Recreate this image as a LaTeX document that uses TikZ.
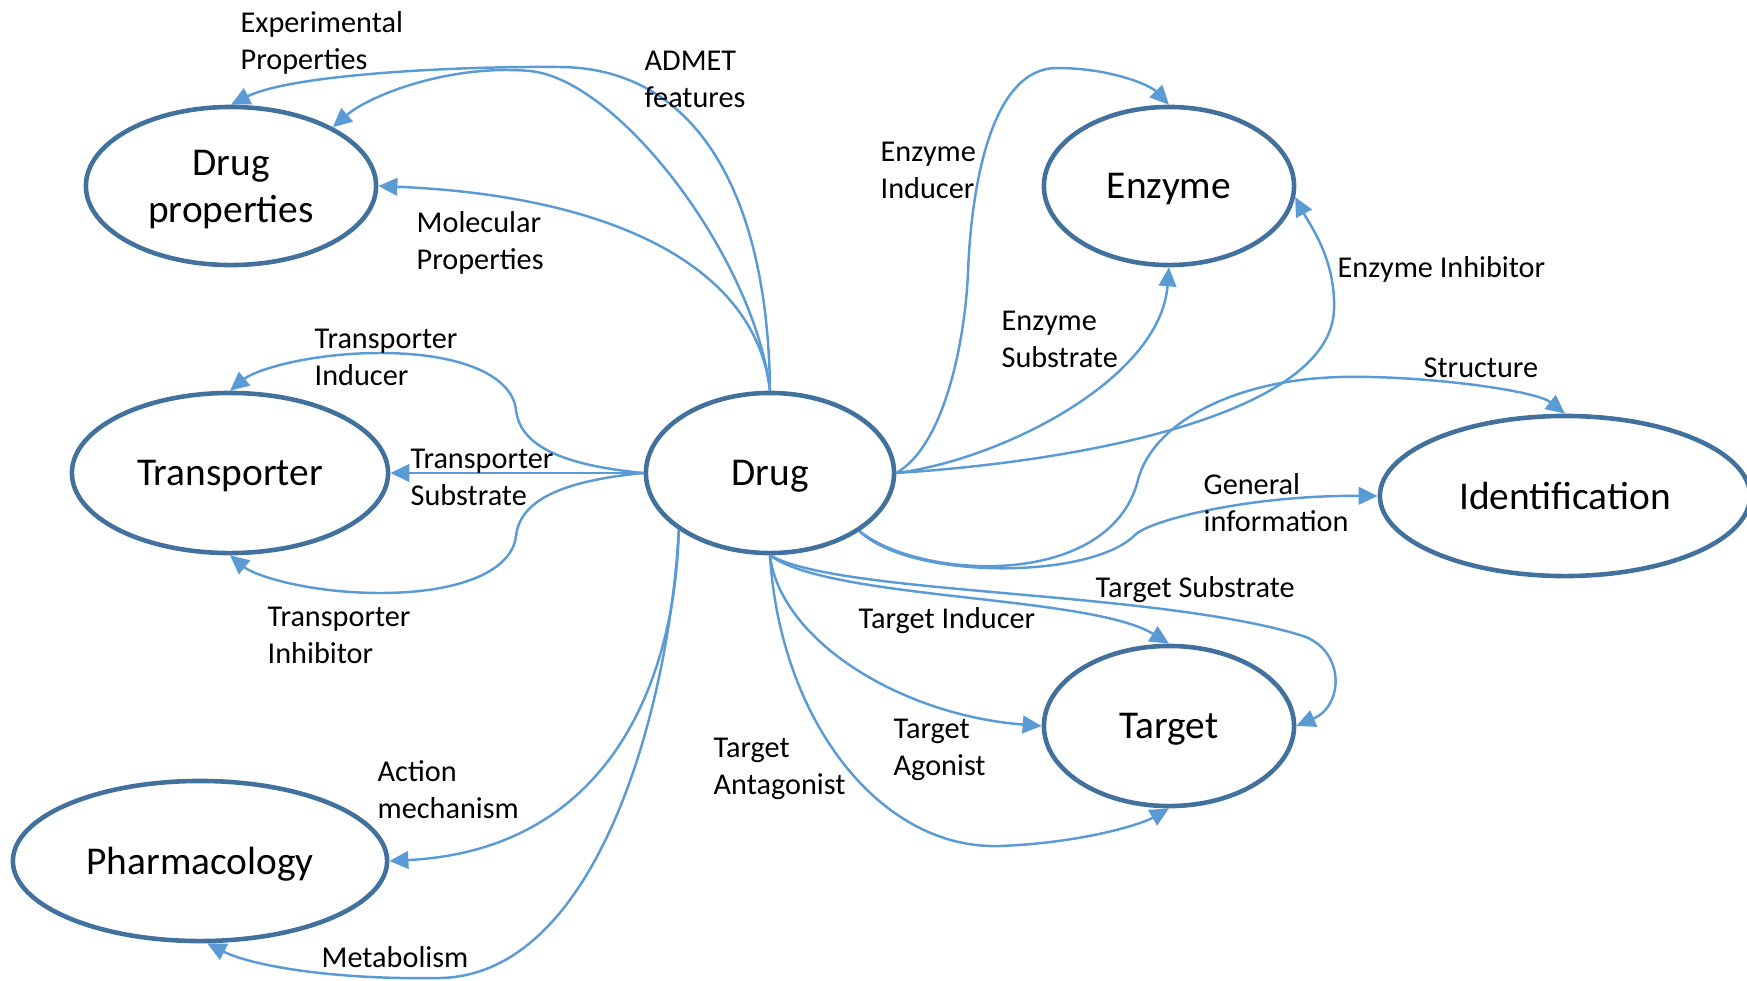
\documentclass[tikz,border=0pt]{standalone}
\usepackage{fontspec}
\setmainfont{Carlito}
\usepackage{tikz}
\usetikzlibrary{shapes.geometric, arrows.meta}
\definecolor{rim}{HTML}{41719C}
\definecolor{link}{HTML}{5B9BD5}

\begin{document}
\begin{tikzpicture}[x=0.01cm, y=-0.01cm,
    ent/.style={draw=rim, line width=1.3pt, ellipse, inner sep=0pt, align=center, text depth=0pt,
        font=\fontsize{11.2}{13.4}\selectfont},
    rel/.style={draw=link, line width=0.7pt, -{Triangle[length=5.4pt, width=5pt]}},
    lbl/.style={anchor=west, inner sep=0pt, align=left, yshift=-0.8pt, font=\fontsize{8.6}{10.5}\selectfont}]
    \useasboundingbox (0,0) rectangle (1747,981);

    \node(Dp)[ent, minimum width=2.9cm, minimum height=1.58cm] at (231,186) {Drug\\properties};
    \node(Tr)[ent, minimum width=3.16cm, minimum height=1.6cm] at (230,473) {Transporter};
    \node(Ph)[ent, minimum width=3.74cm, minimum height=1.6cm] at (200,861) {Pharmacology};
    \node(Dr)[ent, minimum width=2.48cm, minimum height=1.6cm] at (770,473) {Drug};
    \node(En)[ent, minimum width=2.5cm, minimum height=1.58cm] at (1169,186) {Enzyme};
    \node(Id)[ent, minimum width=3.7cm, minimum height=1.6cm] at (1565,496) {Identification};
    \node(Tg)[ent, minimum width=2.5cm, minimum height=1.6cm] at (1169,726) {Target};

    % drug properties
    \draw[rel] (Dr.north) .. controls (768,200) and (700,68) .. (560,67) .. controls (450,66) and (290,75) .. (Dp.north);
    \draw[rel] (Dr.north) .. controls (755,260) and (620,80) .. (530,71) .. controls (450,64) and (370,95) .. (Dp.30);
    \draw[rel] (Dr.north) .. controls (755,260) and (600,195) .. (Dp.east);
    % transporter
    \draw[rel] (Dr.west) .. controls (560,465) and (520,445) .. (516,410) .. controls (512,375) and (460,353) .. (380,353) .. controls (310,353) and (255,370) .. (Tr.north);
    \draw[rel] (Dr.west) -- (Tr.east);
    \draw[rel] (Dr.west) .. controls (560,481) and (520,501) .. (516,536) .. controls (512,571) and (460,593) .. (380,593) .. controls (310,593) and (255,576) .. (Tr.south);
    % pharmacology
    \draw[rel] (Dr.212) .. controls (675,680) and (610,850) .. (Ph.east);
    \draw[rel] (Dr.212) .. controls (670,700) and (600,975) .. (440,978) .. controls (330,980) and (250,965) .. (Ph.-85);
    % enzyme
    \draw[rel] (Dr.east) .. controls (945,445) and (965,340) .. (968,273) .. controls (971,190) and (990,68) .. (1057,68) .. controls (1110,68) and (1150,85) .. (En.north);
    \draw[rel] (Dr.east) .. controls (1000,460) and (1160,380) .. (En.south);
    \draw[rel] (Dr.east) .. controls (1100,460) and (1330,410) .. (1334,310) .. controls (1336,260) and (1310,225) .. (En.-5);
    % identification
    \draw[rel] (Dr.-33) .. controls (920,580) and (1110,590) .. (1138,480) .. controls (1152,425) and (1230,380) .. (1340,377) .. controls (1420,375) and (1535,390) .. (Id.north);
    \draw[rel] (Dr.-33) .. controls (910,580) and (1090,580) .. (1135,535) .. controls (1150,520) and (1250,495) .. (Id.west);
    % target
    \draw[rel] (Dr.south) .. controls (840,595) and (1150,590) .. (1300,635) .. controls (1345,648) and (1345,705) .. (Tg.east);
    \draw[rel] (Dr.south) .. controls (830,600) and (1090,595) .. (Tg.north);
    \draw[rel] (Dr.south) .. controls (780,640) and (900,715) .. (Tg.west);
    \draw[rel] (Dr.south) .. controls (780,720) and (880,850) .. (1000,846) .. controls (1080,843) and (1140,825) .. (Tg.south);

    \node(lexp)[lbl] at (240,40) {Experimental\\Properties};
    \node(ladm)[lbl] at (644,77) {ADMET\\features};
    \node(lmol)[lbl] at (416,240) {Molecular\\Properties};
    \node(ltin)[lbl] at (314,355) {Transporter\\Inducer};
    \node(ltsu)[lbl] at (410,475) {Transporter\\Substrate};
    \node(ltih)[lbl] at (267,633) {Transporter\\Inhibitor};
    \node(lact)[lbl] at (377,787) {Action\\mechanism};
    \node(lmet)[lbl] at (321,954) {Metabolism};
    \node(lein)[lbl] at (880,168) {Enzyme\\Inducer};
    \node(leih)[lbl] at (1337,267) {Enzyme Inhibitor};
    \node(lesu)[lbl] at (1001,337) {Enzyme\\Substrate};
    \node(lstr)[lbl] at (1423,365) {Structure};
    \node(lgen)[lbl] at (1203,500) {General\\information};
    \node(ltsb)[lbl] at (1095,587) {Target Substrate};
    \node(ltid)[lbl] at (858,618) {Target Inducer};
    \node(ltag)[lbl] at (893,747) {Target\\Agonist};
    \node(ltan)[lbl] at (713,766) {Target\\Antagonist};
\end{tikzpicture}
\end{document}
